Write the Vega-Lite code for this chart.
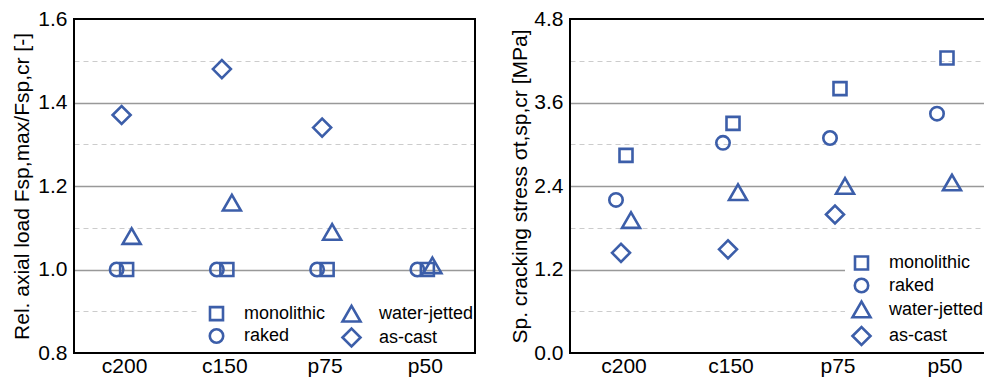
{
  "$schema": "https://vega.github.io/schema/vega-lite/v6.json",
  "padding": {"left": 10, "top": 7, "right": 0, "bottom": 0},
  "background": "white",
  "spacing": 95,
  "bounds": "flush",
  "config": {
    "font": "Liberation Sans",
    "view": {"stroke": "black", "strokeWidth": 2},
    "style": {"cell": {"strokeForeground": true}},
    "axis": {
      "labelFont": "Liberation Sans",
      "labelFontSize": 21,
      "labelColor": "#000000",
      "titleFont": "Liberation Sans",
      "titleFontSize": 21,
      "titleFontWeight": "normal",
      "titleColor": "#000000",
      "ticks": false,
      "domain": false
    },
    "legend": {
      "labelFont": "Liberation Sans",
      "labelFontSize": 18,
      "labelColor": "#000000",
      "symbolStrokeColor": "#3c5ea9",
      "symbolFillColor": "transparent",
      "symbolStrokeWidth": 2.6,
      "fillColor": "white"
    }
  },
  "datasets": {
    "load": [
      {"specimen": "c200", "surface": "monolithic", "value": 1.0},
      {"specimen": "c200", "surface": "raked", "value": 1.0},
      {"specimen": "c200", "surface": "water-jetted", "value": 1.08},
      {"specimen": "c200", "surface": "as-cast", "value": 1.37},
      {"specimen": "c150", "surface": "monolithic", "value": 1.0},
      {"specimen": "c150", "surface": "raked", "value": 1.0},
      {"specimen": "c150", "surface": "water-jetted", "value": 1.16},
      {"specimen": "c150", "surface": "as-cast", "value": 1.48},
      {"specimen": "p75", "surface": "monolithic", "value": 1.0},
      {"specimen": "p75", "surface": "raked", "value": 1.0},
      {"specimen": "p75", "surface": "water-jetted", "value": 1.09},
      {"specimen": "p75", "surface": "as-cast", "value": 1.34},
      {"specimen": "p50", "surface": "monolithic", "value": 1.0},
      {"specimen": "p50", "surface": "raked", "value": 1.0},
      {"specimen": "p50", "surface": "water-jetted", "value": 1.01}
    ],
    "stress": [
      {"specimen": "c200", "surface": "monolithic", "value": 2.84},
      {"specimen": "c200", "surface": "raked", "value": 2.2},
      {"specimen": "c200", "surface": "water-jetted", "value": 1.91},
      {"specimen": "c200", "surface": "as-cast", "value": 1.44},
      {"specimen": "c150", "surface": "monolithic", "value": 3.3},
      {"specimen": "c150", "surface": "raked", "value": 3.02},
      {"specimen": "c150", "surface": "water-jetted", "value": 2.31},
      {"specimen": "c150", "surface": "as-cast", "value": 1.49},
      {"specimen": "p75", "surface": "monolithic", "value": 3.8},
      {"specimen": "p75", "surface": "raked", "value": 3.09},
      {"specimen": "p75", "surface": "water-jetted", "value": 2.4},
      {"specimen": "p75", "surface": "as-cast", "value": 1.99},
      {"specimen": "p50", "surface": "monolithic", "value": 4.24},
      {"specimen": "p50", "surface": "raked", "value": 3.44},
      {"specimen": "p50", "surface": "water-jetted", "value": 2.45}
    ]
  },
  "resolve": {
    "scale": {"shape": "independent", "size": "independent", "xOffset": "independent"},
    "legend": {"shape": "independent", "size": "independent"}
  },
  "hconcat": [
    {
      "width": 401,
      "height": 334,
      "data": {"name": "load"},
      "mark": {"type": "point", "filled": false, "strokeWidth": 2.6, "color": "#3c5ea9", "opacity": 1},
      "encoding": {
        "x": {
          "field": "specimen", "type": "nominal",
          "sort": ["c200", "c150", "p75", "p50"],
          "scale": {"type": "point", "padding": 0.5},
          "axis": {"title": null, "labelAngle": 0, "labelPadding": 2, "grid": false}
        },
        "xOffset": {
          "field": "surface", "type": "nominal",
          "scale": {"type": "point", "domain": ["raked", "as-cast", "monolithic", "water-jetted"], "range": [-10, 10]}
        },
        "y": {
          "field": "value", "type": "quantitative",
          "scale": {"domain": [0.8, 1.6], "zero": false, "nice": false},
          "axis": {
            "title": "Rel. axial load Fsp,max/Fsp,cr [-]",
            "titlePadding": 5,
            "labelPadding": 7,
            "values": [0.8, 0.9, 1.0, 1.1, 1.2, 1.3, 1.4, 1.5, 1.6],
            "labelExpr": "abs(datum.value*5 - round(datum.value*5)) < 0.001 ? format(datum.value, '.1f') : ''",
            "grid": true,
            "gridColor": {"condition": {"test": "abs(datum.value*5 - round(datum.value*5)) < 0.001", "value": "#999999"}, "value": "#cccccc"},
            "gridDash": {"condition": {"test": "abs(datum.value*5 - round(datum.value*5)) < 0.001", "value": []}, "value": [5, 4]},
            "gridWidth": {"condition": {"test": "abs(datum.value*5 - round(datum.value*5)) < 0.001", "value": 1.5}, "value": 1},
            "gridOpacity": {"condition": {"test": "datum.value < 0.85 || datum.value > 1.55", "value": 0}, "value": 1}
          }
        },
        "shape": {
          "field": "surface", "type": "nominal",
          "scale": {"domain": ["monolithic", "raked", "water-jetted", "as-cast"], "range": ["square", "circle", "triangle-up", "diamond"]},
          "legend": {"title": null, "orient": "none", "legendX": 125, "legendY": 277, "columns": 2, "padding": 7, "labelOffset": 17, "columnPadding": 11, "rowPadding": -4}
        },
        "size": {
          "field": "surface", "type": "nominal",
          "scale": {"type": "ordinal", "domain": ["monolithic", "raked", "water-jetted", "as-cast"], "range": [169, 180, 324, 324]},
          "legend": {"title": null, "orient": "none", "legendX": 125, "legendY": 277, "columns": 2, "padding": 7, "labelOffset": 17, "columnPadding": 11, "rowPadding": -4}
        }
      }
    },
    {
      "width": 428,
      "height": 334,
      "data": {"name": "stress"},
      "mark": {"type": "point", "filled": false, "strokeWidth": 2.6, "color": "#3c5ea9", "opacity": 1},
      "encoding": {
        "x": {
          "field": "specimen", "type": "nominal",
          "sort": ["c200", "c150", "p75", "p50"],
          "scale": {"type": "point", "padding": 0.5},
          "axis": {"title": null, "labelAngle": 0, "labelPadding": 2, "grid": false}
        },
        "xOffset": {
          "field": "surface", "type": "nominal",
          "scale": {"type": "point", "domain": ["raked", "as-cast", "monolithic", "water-jetted"], "range": [-10, 10]}
        },
        "y": {
          "field": "value", "type": "quantitative",
          "scale": {"domain": [0, 4.8], "zero": false, "nice": false},
          "axis": {
            "title": "Sp. cracking stress σt,sp,cr [MPa]",
            "titlePadding": 3,
            "labelPadding": 7,
            "values": [0, 0.6, 1.2, 1.8, 2.4, 3.0, 3.6, 4.2, 4.8],
            "labelExpr": "abs(datum.value/1.2 - round(datum.value/1.2)) < 0.001 ? format(datum.value, '.1f') : ''",
            "grid": true,
            "gridColor": {"condition": {"test": "abs(datum.value/1.2 - round(datum.value/1.2)) < 0.001", "value": "#999999"}, "value": "#cccccc"},
            "gridDash": {"condition": {"test": "abs(datum.value/1.2 - round(datum.value/1.2)) < 0.001", "value": []}, "value": [5, 4]},
            "gridWidth": {"condition": {"test": "abs(datum.value/1.2 - round(datum.value/1.2)) < 0.001", "value": 1.5}, "value": 1},
            "gridOpacity": {"condition": {"test": "datum.value < 0.1 || datum.value > 4.7", "value": 0}, "value": 1}
          }
        },
        "shape": {
          "field": "surface", "type": "nominal",
          "scale": {"domain": ["monolithic", "raked", "water-jetted", "as-cast"], "range": ["square", "circle", "triangle-up", "diamond"]},
          "legend": {"title": null, "orient": "none", "legendX": 275, "legendY": 229, "columns": 1, "padding": 6, "labelOffset": 17, "rowPadding": -1.5}
        },
        "size": {
          "field": "surface", "type": "nominal",
          "scale": {"type": "ordinal", "domain": ["monolithic", "raked", "water-jetted", "as-cast"], "range": [169, 180, 324, 324]},
          "legend": {"title": null, "orient": "none", "legendX": 275, "legendY": 229, "columns": 1, "padding": 6, "labelOffset": 17, "rowPadding": -1.5}
        }
      }
    }
  ]
}
